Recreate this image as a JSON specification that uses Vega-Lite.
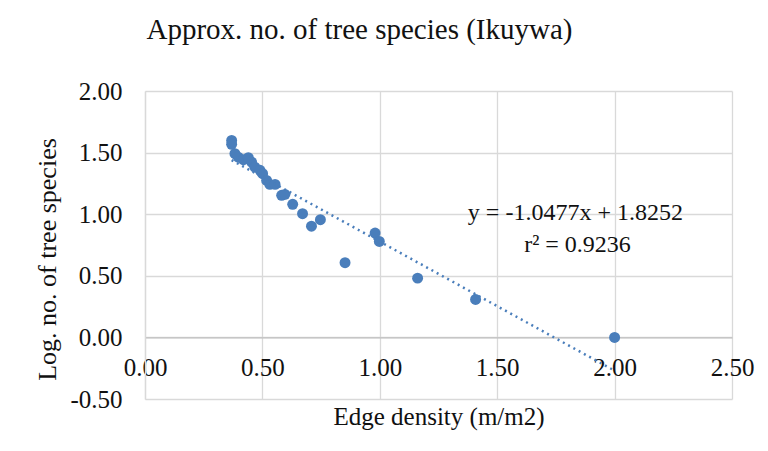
{
  "$schema": "https://vega.github.io/schema/vega-lite/v6.json",
  "width": 587,
  "height": 308,
  "autosize": "none",
  "padding": {"left": 145, "top": 91, "right": 36, "bottom": 52},
  "background": "white",
  "title": {
    "text": "Approx. no. of tree species (Ikuywa)",
    "font": "Liberation Serif",
    "fontSize": 29,
    "fontWeight": "normal",
    "color": "#111111",
    "anchor": "middle",
    "frame": "group",
    "baseline": "alphabetic",
    "dx": -79,
    "offset": 11
  },
  "config": {
    "view": {"stroke": null},
    "axis": {
      "labelFont": "Liberation Serif",
      "titleFont": "Liberation Serif",
      "labelColor": "#111111",
      "titleColor": "#111111",
      "titleFontWeight": "normal",
      "gridColor": "#d9d9d9",
      "gridWidth": 1.3,
      "ticks": false,
      "tickSize": 0
    }
  },
  "layer": [
    {
      "data": {
        "values": [
          {"ed": 0.369, "logn": 1.599},
          {"ed": 0.369, "logn": 1.567},
          {"ed": 0.383, "logn": 1.491},
          {"ed": 0.397, "logn": 1.463},
          {"ed": 0.419, "logn": 1.442},
          {"ed": 0.44, "logn": 1.459},
          {"ed": 0.454, "logn": 1.423},
          {"ed": 0.468, "logn": 1.382},
          {"ed": 0.49, "logn": 1.356},
          {"ed": 0.501, "logn": 1.329},
          {"ed": 0.518, "logn": 1.274},
          {"ed": 0.532, "logn": 1.242},
          {"ed": 0.554, "logn": 1.242},
          {"ed": 0.582, "logn": 1.153},
          {"ed": 0.596, "logn": 1.161},
          {"ed": 0.629, "logn": 1.08},
          {"ed": 0.671, "logn": 1.004},
          {"ed": 0.709, "logn": 0.903},
          {"ed": 0.747, "logn": 0.955},
          {"ed": 0.852, "logn": 0.606},
          {"ed": 0.98, "logn": 0.847},
          {"ed": 0.998, "logn": 0.779},
          {"ed": 1.161, "logn": 0.481},
          {"ed": 1.408, "logn": 0.308},
          {"ed": 2.0, "logn": 0.0}
        ]
      },
      "mark": {"type": "point", "filled": true, "opacity": 1, "size": 120, "color": "#4a7ebb"},
      "encoding": {
        "x": {
          "field": "ed",
          "type": "quantitative",
          "scale": {"domain": [0, 2.5], "nice": false, "zero": false},
          "axis": {
            "title": "Edge density (m/m2)",
            "values": [0, 0.5, 1, 1.5, 2, 2.5],
            "format": ".2f",
            "labelFontSize": 25,
            "titleFontSize": 25,
            "labelFlush": false,
            "labelOverlap": false,
            "labelBaseline": "alphabetic",
            "labelPadding": 38,
            "offset": -61.6,
            "domainColor": "#bfbfbf",
            "domainWidth": 1.3,
            "titleBaseline": "alphabetic",
            "titleY": 87
          }
        },
        "y": {
          "field": "logn",
          "type": "quantitative",
          "scale": {"domain": [-0.5, 2], "nice": false, "zero": false},
          "axis": {
            "title": "Log. no. of tree species",
            "values": [-0.5, 0, 0.5, 1, 1.5, 2],
            "labelExpr": "replace(format(datum.value, '.2f'), '\u2212', '-')",
            "labelFontSize": 25,
            "titleFontSize": 26,
            "labelPadding": 23,
            "labelBaseline": "middle",
            "domainColor": "#d9d9d9",
            "domainWidth": 1.3,
            "titleBaseline": "alphabetic",
            "titleX": -90,
            "titleY": 168,
            "titleAlign": "center",
            "titleAngle": -90
          }
        }
      }
    },
    {
      "data": {
        "values": [
          {"ed": 0.369, "logn": 1.4386},
          {"ed": 2.0, "logn": -0.2702}
        ]
      },
      "mark": {"type": "line", "color": "#4a7ebb", "strokeWidth": 2.5, "strokeDash": [2, 4]},
      "encoding": {
        "x": {"field": "ed", "type": "quantitative"},
        "y": {"field": "logn", "type": "quantitative"}
      }
    },
    {
      "data": {
        "values": [
          {"ed": 1.833, "logn": 0.95, "label": "y = -1.0477x + 1.8252"},
          {"ed": 1.842, "logn": 0.692, "label": "r² = 0.9236"}
        ]
      },
      "mark": {"type": "text", "font": "Liberation Serif", "fontSize": 24, "color": "#111111", "align": "center", "baseline": "alphabetic"},
      "encoding": {
        "x": {"field": "ed", "type": "quantitative"},
        "y": {"field": "logn", "type": "quantitative"},
        "text": {"field": "label"}
      }
    }
  ]
}
